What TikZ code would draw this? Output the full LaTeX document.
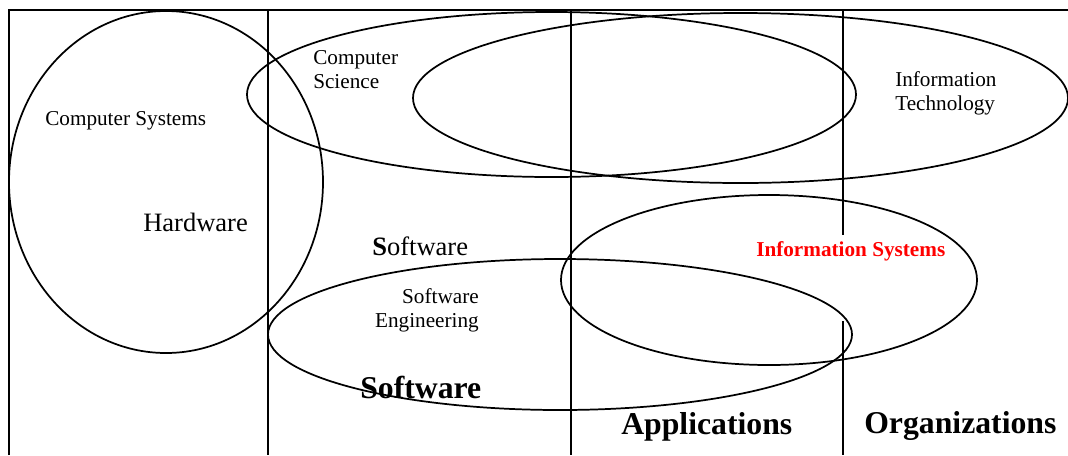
\documentclass[tikz,border=0pt]{standalone}
\usepackage{fontspec}
\setmainfont{Liberation Serif}
\begin{document}
\begin{tikzpicture}[x=0.75pt,y=-0.75pt,
  frame/.style={line width=1.6pt},
  divider/.style={line width=2.2pt},
  area/.style={line width=1.3pt},
  lbl/.style={inner sep=0pt,font=\fontsize{15.9}{18}\selectfont},
  midlbl/.style={inner sep=0pt,font=\fontsize{19.9}{24}\selectfont},
  biglbl/.style={inner sep=0pt,font=\fontsize{23.8}{28}\selectfont\bfseries},
  redlbl/.style={inner sep=0pt,text=red,font=\fontsize{15.9}{18}\selectfont\bfseries}]
\useasboundingbox (0,0) rectangle (1068,455);
\clip (0,0) rectangle (1068,455);

% columns of the field
\draw[frame] (9,455) -- (9,10) -- (1068,10);
\draw[frame] (268,10) -- (268,455);
\draw[divider] (571,10) -- (571,455);
\draw[frame] (843,9) -- (843,235);
\draw[frame] (843,321) -- (843,455);

% overlapping disciplines
\draw[area] (166,182) ellipse [x radius=157, y radius=171];
\draw[area] (551.5,94.5) ellipse [x radius=304.5, y radius=82.5];
\draw[area] (740.5,98) ellipse [x radius=327.5, y radius=85];
\draw[area] (560,334.5) ellipse [x radius=292, y radius=75.5];
\draw[area] (769,280) ellipse [x radius=208, y radius=85];

% labels
\node[lbl,anchor=west] (cs) at (45,121) {Computer Systems};
\node[lbl,anchor=west,align=left] (sci) at (313,70) {Computer\\Science};
\node[lbl,anchor=west,align=left] (it) at (895,93) {Information\\Technology};
\node[midlbl,anchor=west] (hw) at (143,222) {Hardware};
\node[midlbl,anchor=west] (sw) at (372,246) {\textbf{S}oftware};
\node[lbl,anchor=east,align=right] (se) at (479,310.5) {Software\\Engineering};
\node[redlbl,anchor=west] (is) at (756,251) {Information Systems};
\node[biglbl,anchor=west] (swb) at (360,387) {Software};
\node[biglbl,anchor=west] (app) at (621,427) {Applications};
\node[biglbl,anchor=west] (org) at (864,426) {Organizations};
\end{tikzpicture}
\end{document}
